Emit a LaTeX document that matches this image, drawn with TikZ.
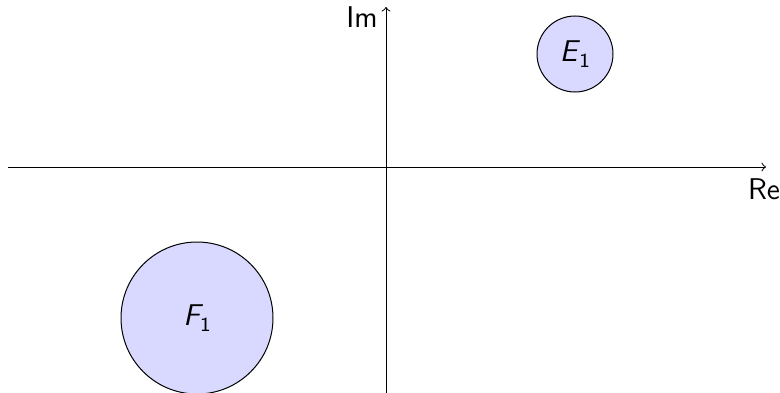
\documentclass[tikz,border=0pt]{standalone}
\renewcommand{\familydefault}{\sfdefault}
\newcommand{\subone}[2][0pt]{\textit{#2}\kern#1\raisebox{-0.45ex}{\footnotesize 1}}
\begin{document}
\begin{tikzpicture}[x=0.4pt,y=-0.4pt,
  axis/.style={->,line width=0.4pt},
  region/.style={circle,draw,fill=blue!15,line width=0.4pt,inner sep=0pt,font=\large\sffamily},
  lbl/.style={font=\large\sffamily,inner sep=0pt}]
\useasboundingbox (0,0) rectangle (780,393);
\coordinate (xs) at (8,167);
\coordinate (xe) at (766,167);
\coordinate (ys) at (386,393);
\coordinate (ye) at (386,7);
\draw[axis] (xs) -- (xe);
\draw[axis] (ys) -- (ye);
\node[lbl] (re) at (764,189) {Re};
\node[lbl,anchor=east] (im) at (378,17) {Im};
\node[region,minimum size=30.4pt] (e1) at (575,54) {\subone[-0.3pt]{E}};
\node[region,minimum size=60.8pt] (f1) at (197,318) {\subone[-1.2pt]{F}};
\end{tikzpicture}
\end{document}
